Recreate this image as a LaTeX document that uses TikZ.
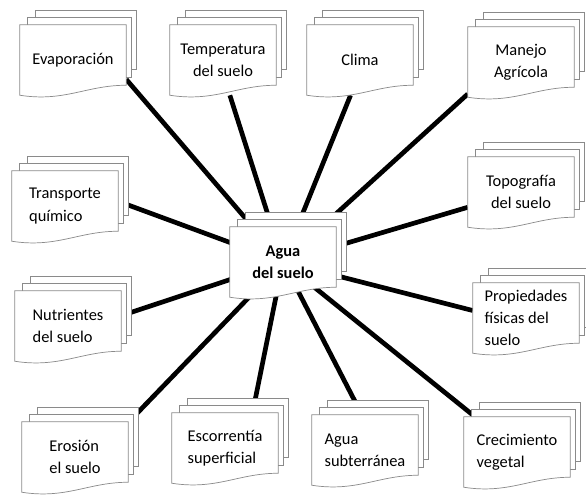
\documentclass[tikz,border=0pt]{standalone}
\usepackage{fontspec}
\setmainfont{Carlito}
\usepackage{xcolor}
\usepackage{tikz}
\usetikzlibrary{backgrounds}
\definecolor{bordehoja}{HTML}{8A8A8A}

\begin{document}
\begin{tikzpicture}[
    x=0.03cm, y=-0.03cm,
    every node/.style={font=\fontsize{14}{19}\selectfont},
    texto/.style={minimum width=3.18cm, minimum height=2.1cm, inner sep=0pt},
    hoja/.style={draw=bordehoja, fill=white, line width=0.6pt},
    conector/.style={line width=4pt, black}
]
\useasboundingbox (0,0) rectangle (586,495);

\node[texto] (evap) at (73,60) {Evaporación};
\node[texto, align=center] (temp) at (223,60) {Temperatura\\del suelo};
\node[texto] (clima) at (360,60) {Clima};
\node[texto, align=center] (manejo) at (521,62) {Manejo\\Agrícola};
\node[texto, align=left] (transp) at (65,206) {Transporte\\químico};
\node[texto, align=center] (topo) at (521,192) {Topografía\\del suelo};
\node[texto, align=left] (nutri) at (68,326) {Nutrientes\\del suelo};
\node[texto, align=left] (prop) at (526,318) {Propiedades\\físicas del\\suelo};
\node[texto, align=left] (eros) at (75,457) {Erosión\\el suelo};
\node[texto, align=left] (escor) at (225,448) {Escorrentía\\superficial};
\node[texto, align=left] (subt) at (365,450) {Agua\\subterránea};
\node[texto, align=left] (crec) at (517,452) {Crecimiento\\vegetal};
\node[texto, align=center, font=\fontsize{14}{19}\selectfont\bfseries] (agua) at (283,262) {Agua\\del suelo};

\begin{scope}[on background layer]
% conectores desde el centro
\foreach \n/\a in {evap/-20, temp/-79, clima/-105, manejo/-149, transp/5, topo/-164,
                   nutri/11, prop/172, eros/33, escor/52, subt/95, crec/140}
    \draw[conector] (agua.center) -- (\n.\a);
% hojas apiladas
\foreach \n in {evap, temp, clima, manejo, transp, topo, nutri, prop, eros, escor, subt, crec, agua} {
    \foreach \k in {2,1}
        \draw[hoja] ([shift={(8*\k,-7*\k)}]\n.north west) rectangle ([shift={(5*\k,-10-8*\k)}]\n.south east);
    \draw[hoja] (\n.north west) -- (\n.north east) -- ([shift={(0,-10)}]\n.south east)
        .. controls ([shift={(-40,-10)}]\n.south east) and ([shift={(45,7)}]\n.south west) .. (\n.south west) -- cycle;
}
\end{scope}
\end{tikzpicture}
\end{document}
